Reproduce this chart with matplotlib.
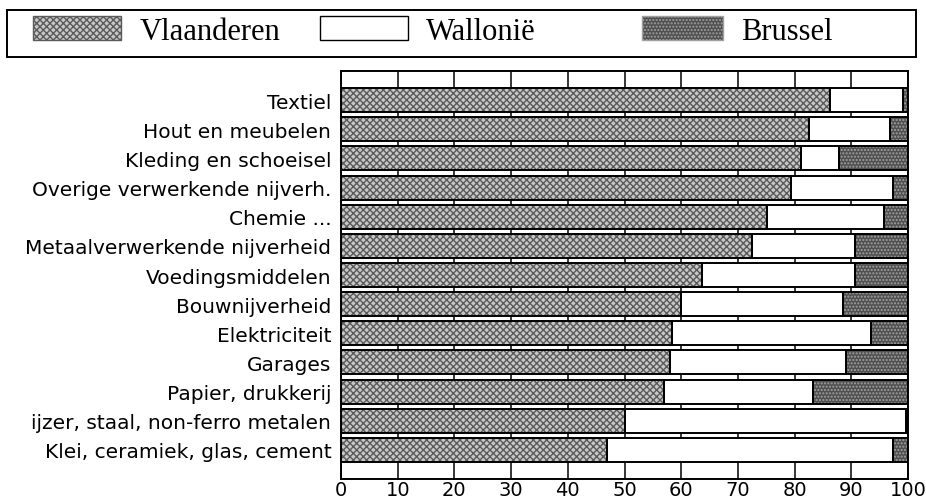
import numpy as np
import matplotlib
matplotlib.use('Agg')
import matplotlib.pyplot as plt
import matplotlib.patches as patches

# --- data (percentages per sector) ---
sectors = ['Textiel', 'Hout en meubelen', 'Kleding en schoeisel',
           'Overige verwerkende nijverh.', 'Chemie ...',
           'Metaalverwerkende nijverheid', 'Voedingsmiddelen',
           'Bouwnijverheid', 'Elektriciteit', 'Garages',
           'Papier, drukkerij', 'ijzer, staal, non-ferro metalen',
           'Klei, ceramiek, glas, cement']
vlaanderen = [86.3, 82.5, 81.1, 79.3, 75.1, 72.4, 63.7, 59.9, 58.3, 58.0, 56.9, 50.1, 47.0]
wallonie = [12.8, 14.4, 6.8, 18.1, 20.7, 18.3, 26.9, 28.7, 35.2, 31.0, 26.4, 49.5, 50.3]
brussel = [0.9, 3.1, 12.1, 2.6, 4.2, 9.3, 9.4, 11.4, 6.5, 11.0, 16.7, 0.4, 2.7]
regions = ['Vlaanderen', 'Wallonië', 'Brussel']
xticks = [0, 10, 20, 30, 40, 50, 60, 70, 80, 90, 100]

W, H = 926, 502
fig = plt.figure(figsize=(W / 100, H / 100), dpi=100)
ax = fig.add_axes([341 / W, 1 - 480 / H, (908 - 341) / W, (480 - 72) / H])

y = np.arange(len(sectors))
vl = np.array(vlaanderen)
wa = np.array(wallonie)
br = np.array(brussel)
bh = 0.82

styles = [dict(color='#c8c8c8', hatch='xxxxx', edgecolor='#5a5a5a'),
          dict(color='white', edgecolor='white'),
          dict(color='#505050', hatch='.....', edgecolor='#a0a0a0')]

# hatched fills first, then black outlines on top
lefts = [np.zeros_like(vl), vl, vl + wa]
for left, val, st in zip(lefts, [vl, wa, br], styles):
    ax.barh(y, val, left=left, height=bh, lw=0, zorder=2, **st)
    ax.barh(y, val, left=left, height=bh, fill=False, edgecolor='black', lw=1.4, zorder=3)

ax.set_xlim(0, 100)
ax.set_ylim(len(sectors), -1)
ax.set_xticks(xticks)
ax.set_xticklabels([str(v) for v in xticks], fontsize=14)
ax.set_yticks(y)
ax.set_yticklabels(sectors, fontsize=14.5)
ax.tick_params(axis='y', length=0, pad=7)
ax.tick_params(axis='x', length=0, pad=1)
ax.xaxis.grid(True, color='black', lw=1.1, zorder=0)
ax.set_axisbelow(True)
for s in ax.spines.values():
    s.set_linewidth(1.4)

# legend: three entries at their own spots, inside one long box
legend_x = [33, 320, 642]
handle_w = [88, 88, 81]
for name, st, x0, hw in zip(regions, styles, legend_x, handle_w):
    st = dict(st)
    fc = st.pop('color')
    h = patches.Patch(facecolor=fc, hatch=st.get('hatch'),
                      edgecolor='black' if fc == 'white' else st['edgecolor'])
    fig.legend([h], [name], loc='center left',
               bbox_to_anchor=(x0 / W, 1 - 32 / H), frameon=False,
               prop={'family': 'Liberation Serif', 'size': 22},
               handlelength=hw / 30.6, handleheight=0.82, handletextpad=0.6,
               borderpad=0, borderaxespad=0)
fig.patches.append(patches.Rectangle((7 / W, 1 - 58 / H), 909 / W, 47 / H,
                                     transform=fig.transFigure, fill=False,
                                     edgecolor='black', lw=1.4))

fig.savefig('out.png', dpi=100)
